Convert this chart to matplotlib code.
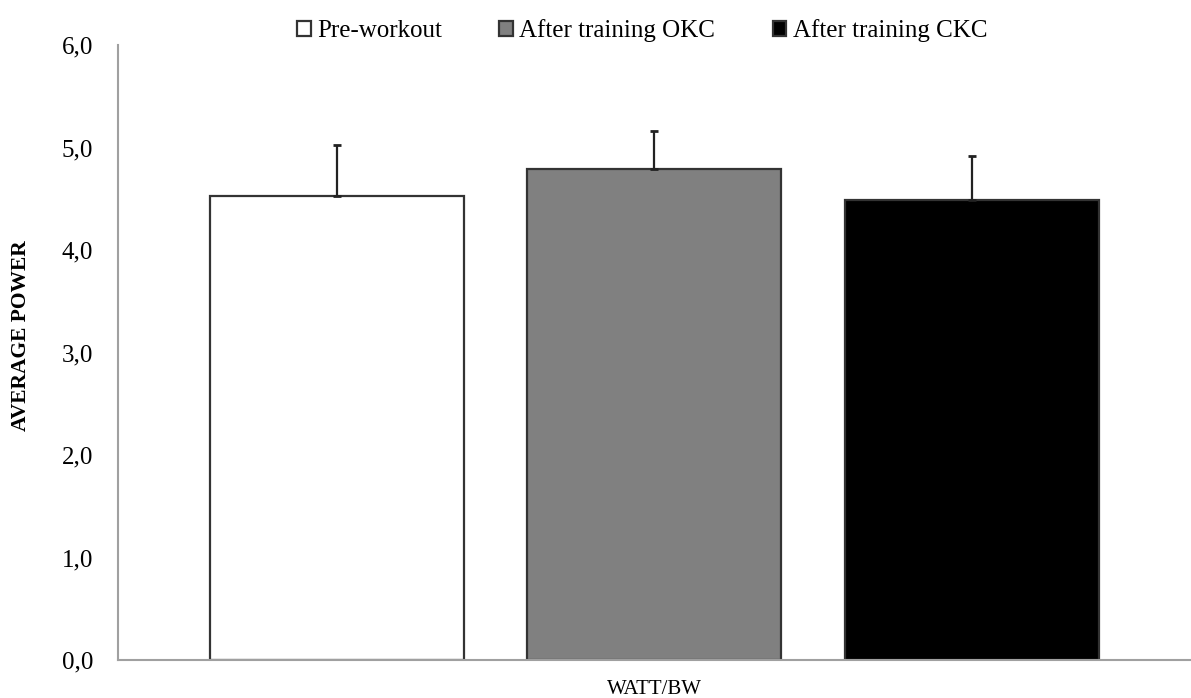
import numpy as np
import matplotlib.pyplot as plt
from matplotlib.ticker import FuncFormatter

# Values
groups = ["Pre-workout", "After training OKC", "After training CKC"]
means = [4.53, 4.79, 4.49]
errors = [0.50, 0.37, 0.43]
colors = ["white", "#808080", "black"]
yticks = [0, 1, 2, 3, 4, 5, 6]

plt.rcParams["font.family"] = ["Liberation Serif", "DejaVu Serif"]

fig = plt.figure(figsize=(11.91, 6.98), dpi=100)
ax = fig.add_axes([0.099, 0.0544, 0.901, 0.881])

x = np.arange(len(groups))
for i in range(len(groups)):
    ax.bar(x[i], means[i], width=0.8, color=colors[i], edgecolor="#333333",
           linewidth=1.6, label=groups[i], zorder=2)
    ax.errorbar(x[i], means[i], yerr=[[0], [errors[i]]], fmt="none",
                ecolor="#222222", elinewidth=1.6, capsize=3, capthick=2, zorder=3)

ax.set_xlim(-0.69, 2.69)
ax.set_ylim(0, 6)
ax.set_yticks(yticks)
ax.yaxis.set_major_formatter(FuncFormatter(lambda v, p: f"{v:.1f}".replace(".", ",")))
ax.set_xticks([])
ax.tick_params(axis="y", length=0, labelsize=18, pad=18)

for s in ["top", "right"]:
    ax.spines[s].set_visible(False)
ax.spines["left"].set_color("#a0a0a0")
ax.spines["bottom"].set_color("#a0a0a0")
ax.spines["left"].set_linewidth(1.5)
ax.spines["bottom"].set_linewidth(1.5)

ax.set_ylabel("AVERAGE POWER", fontsize=15.5, fontweight="bold")
ax.yaxis.set_label_coords(-0.081, 0.527)

# x label sits right at the bottom edge
fig.text(654 / 1191, 0.006, "WATT/BW", fontsize=15, ha="center", va="baseline")

fig.legend(loc="upper center", bbox_to_anchor=(0.539, 1.005), ncol=3, frameon=False,
           fontsize=18, handlelength=0.55, handleheight=0.55, handletextpad=0.25,
           columnspacing=2.3)

fig.savefig("out.png", dpi=100)
